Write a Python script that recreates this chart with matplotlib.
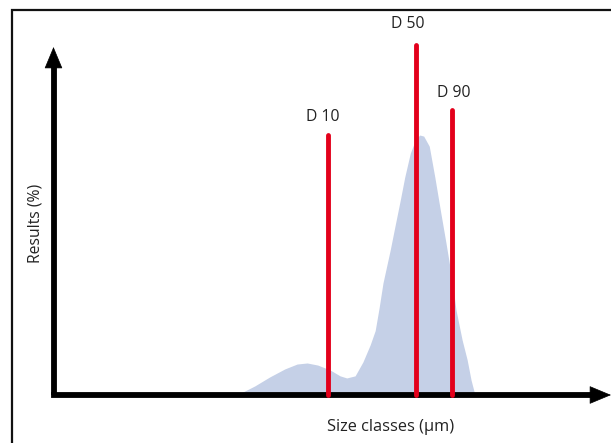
"""Particle size distribution sketch with D10 / D50 / D90 markers."""

import matplotlib

matplotlib.use("Agg")

import matplotlib.pyplot as plt
from matplotlib.patches import Rectangle

plt.rcParams["font.family"] = ["Open Sans", "DejaVu Sans"]

# distribution outline (size class units, results %)
size_classes = [32.9, 36.1, 38.8, 41.5, 43.7, 45.5, 47.4, 49.6, 51.4, 52.6,
                54.1, 55.5, 56.8, 57.7, 58.4, 59.1, 60.4, 61.3, 62.2, 63.0,
                64.0, 65.0, 65.7, 66.4, 67.4, 68.4, 69.4, 70.4, 71.5, 72.2,
                73.3, 74.2, 74.9, 75.6]
results = [0.0, 2.6, 5.2, 7.5, 8.9, 9.2, 8.6, 7.2, 5.5, 4.9,
           5.5, 9.5, 14.4, 18.5, 25.0, 32.2, 41.7, 48.9, 56.0, 62.6,
           69.5, 73.6, 74.7, 74.4, 71.5, 62.6, 53.0, 43.7, 33.0, 24.4,
           15.8, 10.1, 4.3, 0.0]

# percentile markers
marker_names = ["D 10", "D 50", "D 90"]
marker_x = [49.3, 65.0, 71.5]
marker_top = [74.6, 100.7, 81.8]
label_x = [48.3, 63.6, 71.8]
label_y = [80.0, 106.7, 86.7]

W, H = 611, 443
fig = plt.figure(figsize=(W / 100, H / 100), dpi=100)
ox, oy = 53.5, 395.0
ax = fig.add_axes([ox / W, (H - oy) / H, (W - ox) / W, (oy - 47) / H])
ax.set_xlim(0, 100)
ax.set_ylim(0, 100)
ax.axis("off")

# frame around the picture (runs off the right and bottom edges)
fig.add_artist(Rectangle((12 / W, -0.1), 1.2, 1.1 - 10 / H, transform=fig.transFigure,
                         fill=False, edgecolor="#111111", lw=1.6))

ax.fill_between(size_classes, results, 0, color="#c5d0e7", lw=0, zorder=1)

# axes: thick shafts plus separate filled arrow heads
ax.plot([0, 97], [0, 0], color="black", lw=4.2, solid_capstyle="projecting",
        clip_on=False, zorder=3)
ax.plot([0, 0], [0, 95], color="black", lw=4.2, solid_capstyle="butt",
        clip_on=False, zorder=3)
head = dict(arrowstyle="-|>,head_length=1.2,head_width=0.5", color="black",
            lw=0.5, mutation_scale=12, shrinkA=0, shrinkB=0)
ax.annotate("", xy=(100, 0), xytext=(94, 0), arrowprops=head, annotation_clip=False, zorder=3)
ax.annotate("", xy=(0, 100), xytext=(0, 90), arrowprops=head, annotation_clip=False, zorder=3)

for name, x, top, lx, ly in zip(marker_names, marker_x, marker_top, label_x, label_y):
    ax.plot([x, x], [0, top], color="#e3001b", lw=3.5, solid_capstyle="round",
            clip_on=False, zorder=4)
    ax.text(lx, ly, name, ha="center", va="center", fontsize=11.3, color="#222222")

ax.text(60.4, -9.2, "Size classes (µm)", ha="center", va="center", fontsize=11.8, color="#222222")
ax.text(-3.3, 49.4, "Results (%)", ha="center", va="center", rotation=90,
        fontsize=11.3, color="#222222")

fig.savefig("out.png", dpi=100)
